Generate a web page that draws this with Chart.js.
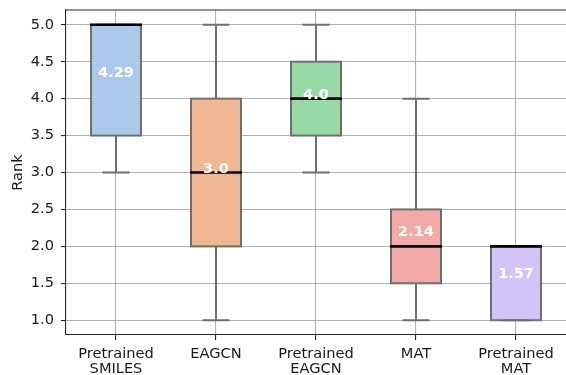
<!DOCTYPE html>
<html><head><meta charset="utf-8">
<script src="https://cdn.jsdelivr.net/npm/chart.js@4/dist/chart.umd.min.js"></script>
<style>
html,body{margin:0;padding:0;overflow:hidden;background:#fff;width:566px;height:375px}
#wrap{position:relative;width:566px;height:375px}
</style>
</head><body><div id="wrap"><canvas id="c"></canvas></div>
<script>
// ---- data ----
const categories = [['Pretrained','SMILES'], 'EAGCN', ['Pretrained','EAGCN'], 'MAT', ['Pretrained','MAT']];
const q1Values = [3.5, 2.0, 3.5, 1.5, 1.0];
const q3Values = [5.0, 4.0, 4.5, 2.5, 2.0];
const medianValues = [5.0, 3.0, 4.0, 2.0, 2.0];
const whiskerLow = [3.0, 1.0, 3.0, 1.0, 1.0];
const whiskerHigh = [5.0, 5.0, 5.0, 4.0, 2.0];
const meanValues = [4.29, 3.0, 4.0, 2.14, 1.57];
const meanLabels = ['4.29', '3.0', '4.0', '2.14', '1.57'];
const yTickValues = [1.0, 1.5, 2.0, 2.5, 3.0, 3.5, 4.0, 4.5, 5.0];
const yMin = 0.8, yMax = 5.2;
const boxColors = ['#abc9ea', '#efb792', '#98daa7', '#f2aaa7', '#d3c4f7'];
const yTitle = 'Rank';

const GRAY = '#6f6f6f';
const SPINE = '#262626';
const FS = 14.6;

Chart.defaults.font.family = "'DejaVu Sans', sans-serif";
Chart.defaults.font.size = FS;
Chart.defaults.color = '#1a1a1a';

const boxPlugin = {
  id: 'boxes',
  afterDatasetsDraw(chart) {
    const ctx = chart.ctx, y = chart.scales.y, meta = chart.getDatasetMeta(0);
    ctx.save();
    ctx.strokeStyle = GRAY; ctx.lineWidth = 2;
    meta.data.forEach((bar, i) => {
      const hw = bar.width / 2;
      const t = y.getPixelForValue(q3Values[i]), b = y.getPixelForValue(q1Values[i]);
      ctx.strokeRect(bar.x - hw, t, 2 * hw, b - t);
    });
    ctx.restore();
  },
  afterDraw(chart) {
    const ctx = chart.ctx, y = chart.scales.y, meta = chart.getDatasetMeta(0), a = chart.chartArea;
    ctx.save();
    ctx.strokeStyle = SPINE; ctx.lineWidth = 1.1;
    ctx.beginPath();
    ctx.moveTo(a.left, a.top); ctx.lineTo(a.right, a.top);
    ctx.stroke();
    meta.data.forEach((bar, i) => {
      const cx = bar.x, hw = bar.width / 2;
      const yq1 = y.getPixelForValue(q1Values[i]), yq3 = y.getPixelForValue(q3Values[i]);
      const ylo = y.getPixelForValue(whiskerLow[i]), yhi = y.getPixelForValue(whiskerHigh[i]);
      const cw = hw * 0.54;
      ctx.strokeStyle = GRAY; ctx.lineWidth = 2; ctx.lineCap = 'butt';
      ctx.beginPath();
      ctx.moveTo(cx, yq1); ctx.lineTo(cx, ylo);
      ctx.moveTo(cx, yq3); ctx.lineTo(cx, yhi);
      ctx.moveTo(cx - cw, ylo); ctx.lineTo(cx + cw, ylo);
      ctx.moveTo(cx - cw, yhi); ctx.lineTo(cx + cw, yhi);
      ctx.stroke();
      const ym = y.getPixelForValue(medianValues[i]);
      ctx.strokeStyle = '#000'; ctx.lineWidth = 2.6;
      ctx.beginPath(); ctx.moveTo(cx - hw - 1, ym); ctx.lineTo(cx + hw + 1, ym); ctx.stroke();
    });
    ctx.fillStyle = '#fff';
    ctx.font = "bold " + FS + "px 'DejaVu Sans', sans-serif";
    ctx.textAlign = 'center'; ctx.textBaseline = 'alphabetic';
    meta.data.forEach((bar, i) => {
      ctx.fillText(meanLabels[i], bar.x, y.getPixelForValue(meanValues[i]));
    });
    ctx.restore();
  }
};

new Chart(document.getElementById('c'), {
  type: 'bar',
  data: {
    labels: categories,
    datasets: [{
      data: q1Values.map((v, i) => [v, q3Values[i]]),
      backgroundColor: boxColors,
      borderWidth: 0,
      barPercentage: 0.5,
      categoryPercentage: 1.0
    }]
  },
  options: {
    responsive: true,
    maintainAspectRatio: false,
    animation: false,
    layout: { padding: { top: 10, right: -1, left: 0, bottom: 0 } },
    plugins: { legend: { display: false }, tooltip: { enabled: false } },
    scales: {
      x: {
        z: 1,
        offset: true,
        grid: { offset: false, color: '#b0b0b0', lineWidth: 1.1, tickLength: 5, tickColor: SPINE, tickWidth: 1.1 },
        border: { color: SPINE, width: 1.1 },
        ticks: { maxRotation: 0, autoSkip: false, padding: 6, font: { lineHeight: 1.075 } },
        afterFit(s) { s.height = 40; s.paddingLeft = 0; s.paddingRight = 0; }
      },
      y: {
        z: 1,
        min: yMin, max: yMax,
        afterBuildTicks(s) { s.ticks = yTickValues.map(v => ({ value: v })); },
        grid: { color: '#b0b0b0', lineWidth: 1.1, tickLength: 5, tickColor: SPINE, tickWidth: 1.1 },
        border: { color: SPINE, width: 1.1 },
        ticks: { padding: 7, callback: v => Number(v).toFixed(1) },
        title: { display: true, text: yTitle, padding: { top: 9, bottom: 0 } },
        afterFit(s) { s.width = 66; s.paddingTop = 0; s.paddingBottom = 0; }
      }
    }
  },
  plugins: [boxPlugin]
});
</script>
</body></html>
